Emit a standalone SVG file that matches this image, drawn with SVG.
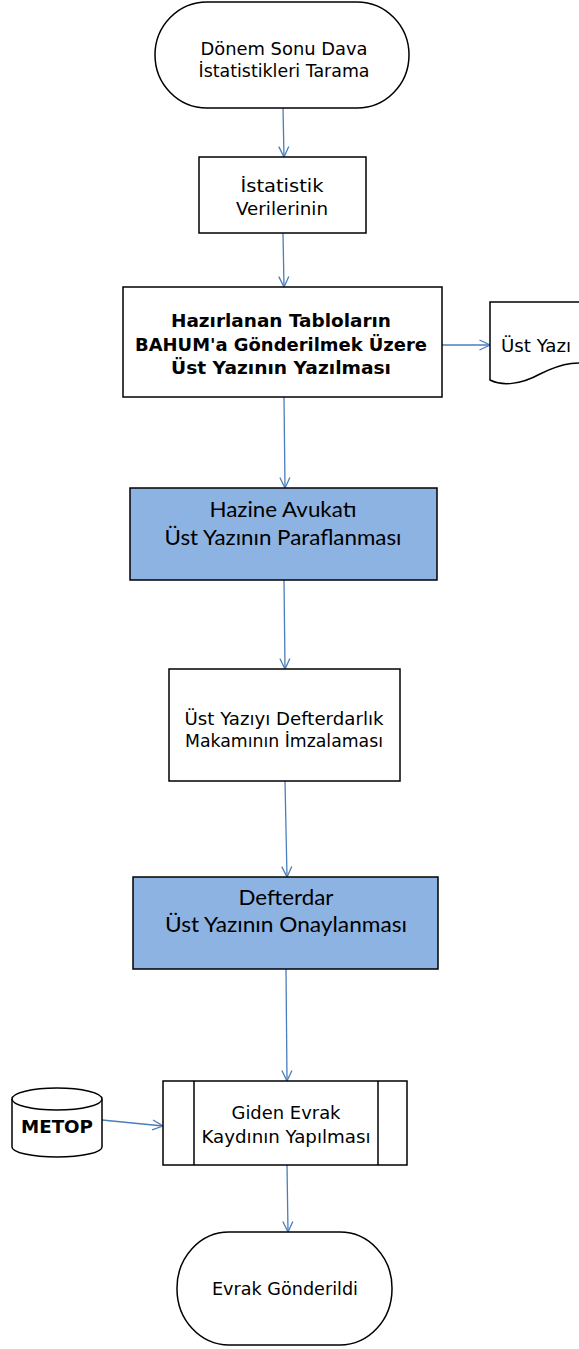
<svg xmlns="http://www.w3.org/2000/svg" width="579" height="1349" viewBox="0 0 579 1349">
<style>
.shape{fill:#fff;stroke:#000;stroke-width:1.5}
.blue{fill:#8DB3E2;stroke:#000;stroke-width:1.5}
.t{font-family:"DejaVu Sans",Verdana,sans-serif;font-size:18px;fill:#000;text-anchor:middle}
.b{font-family:"DejaVu Sans",Verdana,sans-serif;font-size:18px;font-weight:bold;fill:#000;text-anchor:middle}
.g{font-family:Lato,"Open Sans",sans-serif;font-size:21px;fill:#000;text-anchor:middle}
.c{fill:none;stroke:#4A7EBB;stroke-width:1.3;marker-end:url(#ah)}
</style>
<defs>
<marker id="ah" markerUnits="userSpaceOnUse" viewBox="0 0 12 12" markerWidth="12" markerHeight="12" refX="11.5" refY="6" orient="auto">
<path d="M1,1 L11.5,6 L1,11" fill="none" stroke="#4A7EBB" stroke-width="1.3"/>
</marker>
</defs>
<g id="connectors">
<path class="c" d="M283,108 L284,157"/>
<path class="c" d="M283,233 L284,287"/>
<path class="c" d="M442,345 L490,345"/>
<path class="c" d="M284,397 L285,488"/>
<path class="c" d="M284,580 L285,669"/>
<path class="c" d="M285,781 L287,877"/>
<path class="c" d="M286,969 L287,1081"/>
<path class="c" d="M102,1120 L163,1126"/>
<path class="c" d="M287,1165 L288,1232"/>
</g>
<g id="start">
<rect class="shape" x="155" y="2" width="254" height="106" rx="52" ry="53"/>
<text class="t" x="284" y="55" textLength="167" lengthAdjust="spacingAndGlyphs">Dönem Sonu Dava</text>
<text class="t" x="284" y="77" textLength="171" lengthAdjust="spacingAndGlyphs">İstatistikleri Tarama</text>
</g>
<g id="istatistik">
<rect class="shape" x="199" y="157" width="167" height="76"/>
<text class="t" x="282" y="192" textLength="83" lengthAdjust="spacingAndGlyphs">İstatistik</text>
<text class="t" x="282" y="215" textLength="92" lengthAdjust="spacingAndGlyphs">Verilerinin</text>
</g>
<g id="hazirlanan">
<rect class="shape" x="123" y="287" width="319" height="110"/>
<text class="b" x="281" y="327" textLength="220" lengthAdjust="spacingAndGlyphs">Hazırlanan Tabloların</text>
<text class="b" x="281" y="351" textLength="292" lengthAdjust="spacingAndGlyphs">BAHUM'a Gönderilmek Üzere</text>
<text class="b" x="281" y="374" textLength="220" lengthAdjust="spacingAndGlyphs">Üst Yazının Yazılması</text>
</g>
<g id="ustyazi">
<path class="shape" d="M490,302 L610,302 L610,368 C580,358 560,364 540,374 C520,385 502,386 490,380 Z"/>
<text class="t" x="536" y="352" textLength="70" lengthAdjust="spacingAndGlyphs">Üst Yazı</text>
</g>
<g id="avukat">
<rect class="blue" x="130" y="488" width="307" height="92"/>
<text class="g" x="283" y="517" textLength="147" lengthAdjust="spacingAndGlyphs">Hazine Avukatı</text>
<text class="g" x="283" y="545" textLength="237" lengthAdjust="spacingAndGlyphs">Üst Yazının Paraflanması</text>
</g>
<g id="imza">
<rect class="shape" x="169" y="669" width="231" height="112"/>
<text class="t" x="284" y="725" textLength="199" lengthAdjust="spacingAndGlyphs">Üst Yazıyı Defterdarlık</text>
<text class="t" x="284" y="747" textLength="198" lengthAdjust="spacingAndGlyphs">Makamının İmzalaması</text>
</g>
<g id="defterdar">
<rect class="blue" x="133" y="877" width="305" height="92"/>
<text class="g" x="286" y="905" textLength="95" lengthAdjust="spacingAndGlyphs">Defterdar</text>
<text class="g" x="286" y="932" textLength="242" lengthAdjust="spacingAndGlyphs">Üst Yazının Onaylanması</text>
</g>
<g id="metop">
<path class="shape" d="M12,1099 L12,1147 A45,10 0 0 0 102,1147 L102,1099 A45,11 0 0 0 12,1099 Z"/>
<path class="shape" fill="none" d="M12,1099 A45,11 0 0 0 102,1099"/>
<text class="b" x="57" y="1133" font-size="19" textLength="72" lengthAdjust="spacingAndGlyphs">METOP</text>
</g>
<g id="giden">
<rect class="shape" x="163" y="1081" width="244" height="84"/>
<line class="shape" x1="194" y1="1081" x2="194" y2="1165"/>
<line class="shape" x1="378" y1="1081" x2="378" y2="1165"/>
<text class="t" x="286" y="1119" textLength="109" lengthAdjust="spacingAndGlyphs">Giden Evrak</text>
<text class="t" x="286" y="1143" textLength="169" lengthAdjust="spacingAndGlyphs">Kaydının Yapılması</text>
</g>
<g id="end">
<rect class="shape" x="177" y="1232" width="215" height="113" rx="52" ry="56"/>
<text class="t" x="285" y="1295" textLength="146" lengthAdjust="spacingAndGlyphs">Evrak Gönderildi</text>
</g>
</svg>
